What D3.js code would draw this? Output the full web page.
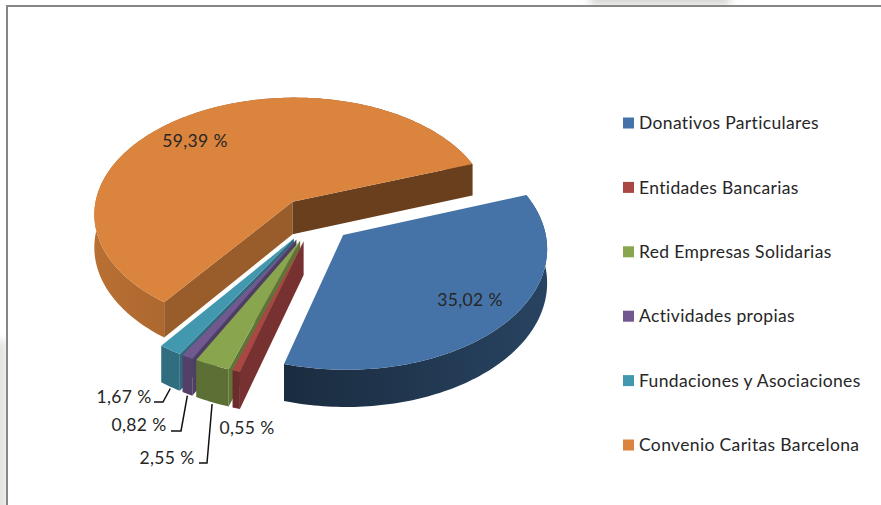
<!DOCTYPE html>
<html>
<head>
<meta charset="utf-8">
<script src="https://cdn.jsdelivr.net/npm/d3@7"></script>
<style>
  html, body { margin: 0; padding: 0; background: #fff; }
  svg { display: block; }
  text { font-family: Lato, "Open Sans", sans-serif; fill: #262626; letter-spacing: 0.35px; }
</style>
</head>
<body>
<div id="graph"></div>
<script>
const categories = ["Donativos Particulares", "Entidades Bancarias", "Red Empresas Solidarias", "Actividades propias", "Fundaciones y Asociaciones", "Convenio Caritas Barcelona"];
const values = [35.02, 0.55, 2.55, 0.82, 1.67, 59.39];
const valueLabels = ["35,02 %", "0,55 %", "2,55 %", "0,82 %", "1,67 %", "59,39 %"];
const colors = ["#4573a7", "#aa4644", "#89a54e", "#71588f", "#4298af", "#db843d"];

const w = 881, h = 505;
const cx = 315, cy = 219.5, R = 200, flat = 0.59, persp = 0.1, depth = 33, explode = 0.19;
const firstAngle = 70 * Math.PI / 180;
// rim shade left/right, per slice
const rimShade = [[0.62, 0.42], [0.37, 0.37], [0.33, 0.33], [0.27, 0.27], [0.28, 0.28], [0.16, 0.42]];
// where the value labels sit, and the elbow of the leader if there is one
const labelPos = [
  { x: 470, y: 300 },
  { x: 247, y: 428 },
  { x: 167, y: 458, elbow: [199, 463, 207, 463] },
  { x: 139, y: 425, elbow: [171, 431, 181, 431] },
  { x: 124, y: 397, elbow: [154, 402, 163, 402] },
  { x: 195, y: 141 }
];

const svg = d3.select("#graph").append("svg").attr("width", w).attr("height", h);
const defs = svg.append("defs");

// faint page watermark behind the chart frame
const blur = defs.append("filter").attr("id", "soft");
blur.append("feGaussianBlur").attr("stdDeviation", 4);
svg.append("rect").attr("x", 590).attr("y", -10).attr("width", 140).attr("height", 15).attr("fill", "#d6d6d3").attr("filter", "url(#soft)");
svg.append("rect").attr("x", -10).attr("y", 340).attr("width", 17).attr("height", 180).attr("fill", "#e2e2df").attr("filter", "url(#soft)");
svg.append("rect").attr("x", 7).attr("y", 6).attr("width", w).attr("height", h).attr("fill", "#fff").attr("stroke", "#868686").attr("stroke-width", 2);

// ground plane (unit circle) to screen, with a bit of perspective
const project = (X, Y, z = 0) => {
  const s = 1 / (1 - persp * Y);
  return [cx + R * X * s, cy + R * flat * Y * s + z * s * depth];
};
const line = d3.line();
const shade = (c, k) => d3.interpolateRgb(c, "#000")(k);

const arcs = d3.pie().sort(null).startAngle(firstAngle).endAngle(firstAngle + 2 * Math.PI)(values);
const slices = arcs.map((a, i) => {
  const mid = (a.startAngle + a.endAngle) / 2;
  const ox = Math.sin(mid) * explode, oy = -Math.cos(mid) * explode;
  const n = Math.max(2, Math.ceil((a.endAngle - a.startAngle) / 0.02));
  const angles = d3.range(n + 1).map((k) => a.startAngle + ((a.endAngle - a.startAngle) * k) / n);
  const at = (t, z, r = 1) => project(ox + Math.sin(t) * r, oy - Math.cos(t) * r, z);
  return { i, a, mid, ox, oy, angles, at, color: colors[i] };
});

// back to front: orange, then the thin ones right to left, blue last
const order = [5, 4, 3, 2, 1, 0];
const pie = svg.append("g").attr("id", "pie");

order.forEach((i) => {
  const d = slices[i];
  const top = d.angles.map((t) => d.at(t, 0));
  const bottom = d.angles.map((t) => d.at(t, 1)).reverse();
  const xs = top.map((p) => p[0]);
  const grad = defs.append("linearGradient").attr("id", "rim" + i).attr("gradientUnits", "userSpaceOnUse")
    .attr("x1", d3.min(xs)).attr("x2", d3.max(xs)).attr("y1", 0).attr("y2", 0);
  grad.append("stop").attr("offset", 0).attr("stop-color", shade(d.color, rimShade[i][0]));
  grad.append("stop").attr("offset", 1).attr("stop-color", shade(d.color, rimShade[i][1]));
  pie.append("path").attr("d", line(top.concat(bottom)) + "Z").attr("fill", `url(#rim${i})`);

  const apex = project(d.ox, d.oy, 0), apexLow = project(d.ox, d.oy, 1);
  const s = d.a.startAngle, e = d.a.endAngle;
  if (Math.sin(s) < 0) {
    pie.append("path").attr("d", line([apex, d.at(s, 0), d.at(s, 1), apexLow]) + "Z").attr("fill", shade(d.color, 0.3));
  }
  if (Math.sin(e) > 0) {
    pie.append("path").attr("d", line([apex, d.at(e, 0), d.at(e, 1), apexLow]) + "Z").attr("fill", shade(d.color, 0.52));
  }
  pie.append("path").attr("d", line([apex].concat(top)) + "Z").attr("fill", d.color);
});

// value labels and leaders
const labels = svg.append("g").attr("id", "labels");
valueLabels.forEach((t, i) => {
  const p = labelPos[i];
  labels.append("text").attr("x", p.x).attr("y", p.y).attr("text-anchor", "middle").attr("dy", "0.35em").attr("font-size", 17.5).text(t);
  if (p.elbow) {
    const end = slices[i].at(slices[i].mid, 1.05);
    labels.append("path").attr("fill", "none").attr("stroke", "#111").attr("stroke-width", 1.5)
      .attr("d", line([[p.elbow[0], p.elbow[1]], [p.elbow[2], p.elbow[3]], end]));
  }
});

// legend
const rowY = d3.scalePoint().domain(categories).range([123, 445]);
const legend = svg.append("g").attr("id", "legend");
categories.forEach((c, i) => {
  legend.append("rect").attr("x", 623).attr("y", rowY(c) - 5.5).attr("width", 11).attr("height", 11).attr("fill", colors[i]);
  legend.append("text").attr("x", 639).attr("y", rowY(c)).attr("dy", "0.35em").attr("font-size", 17.5).text(c);
});
</script>
</body>
</html>
